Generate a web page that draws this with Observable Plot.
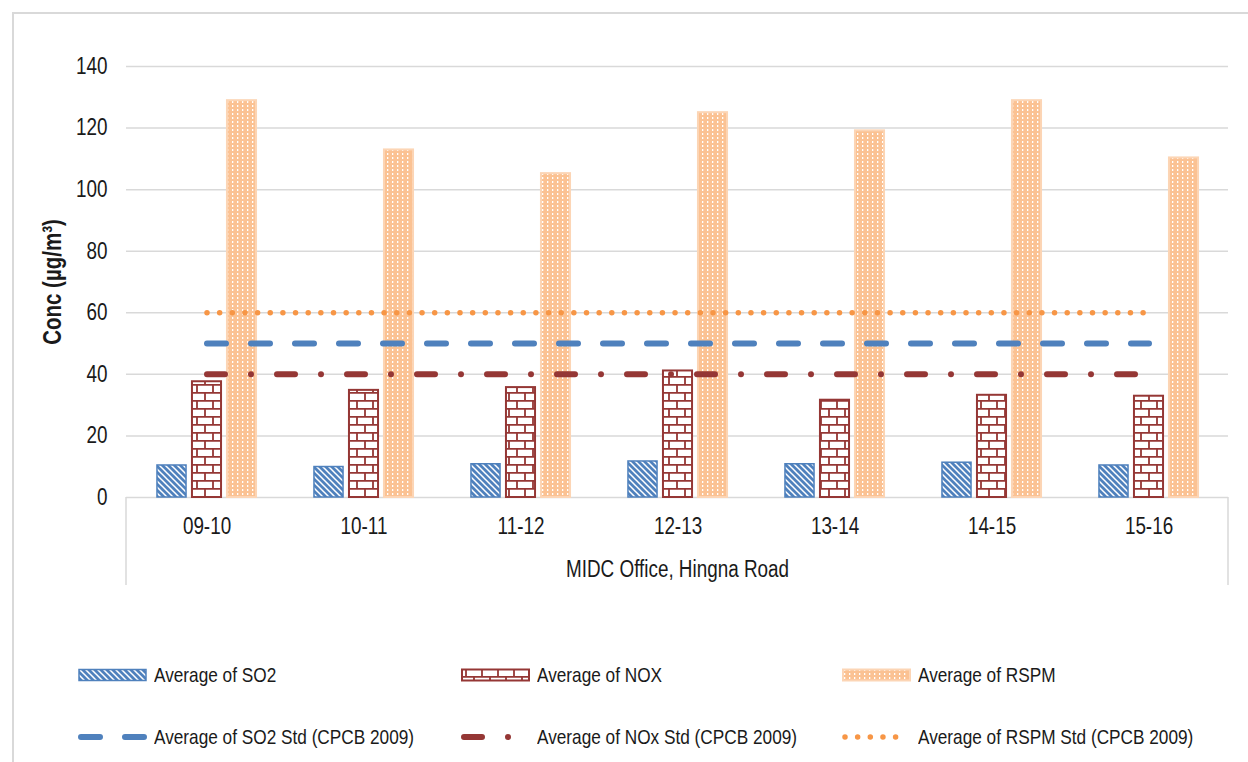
<!DOCTYPE html>
<html><head><meta charset="utf-8">
<script src="https://cdn.jsdelivr.net/npm/d3@7"></script>
<script src="https://cdn.jsdelivr.net/npm/@observablehq/plot@0.6"></script>
<style>
body{margin:0;background:#fff;width:1248px;height:762px;overflow:hidden;position:relative;font-family:"Liberation Sans Narrow","Arial Narrow","Liberation Sans",Arial,sans-serif;}
#frame{position:absolute;left:12px;top:12px;width:1300px;height:800px;border-left:2px solid #d9d9d9;border-top:2px solid #d9d9d9;pointer-events:none}
#chart{position:absolute;left:0;top:0}
.leg{position:absolute;height:30px;display:flex;align-items:center;font-size:21px;color:#1a1a1a;white-space:nowrap}
.leg svg{margin-right:7px;flex:none}
.leg span{display:inline-block;transform:scaleX(0.82);transform-origin:left center}
</style></head><body>
<svg width="0" height="0" style="position:absolute"><defs>
<pattern id="p-so2" patternUnits="userSpaceOnUse" width="6" height="6">
<rect width="6" height="6" fill="#4f81bd"/>
<path d="M-1,-1L7,7M-4,2L1,7M5,-1L10,4" stroke="#fff" stroke-width="1.5"/>
</pattern>
<pattern id="p-nox" patternUnits="userSpaceOnUse" width="16" height="16">
<rect width="16" height="16" fill="#fff"/>
<path d="M0,0.9H16M0,8.9H16M5,0V9M13,9V17" stroke="#953735" stroke-width="1.8" fill="none"/>
</pattern>
<pattern id="p-rspm" patternUnits="userSpaceOnUse" width="5" height="4">
<rect width="5" height="4" fill="#fbc293"/>
<rect x="2" y="1" width="1.3" height="2" fill="#fff"/>
</pattern>
</defs></svg>
<div id="chart"></div>
<div id="legend"></div>
<div id="frame"></div>
<script>
// ---- data ----
const years = ["09-10", "10-11", "11-12", "12-13", "13-14", "14-15", "15-16"];
const so2 = [10.4, 9.9, 10.8, 11.7, 10.8, 11.3, 10.4];
const nox = [37.6, 34.8, 35.7, 41.1, 31.6, 33.2, 32.9];
const rspm = [128.9, 112.9, 105.2, 125.0, 119.1, 128.9, 110.3];
const so2Std = [50, 50, 50, 50, 50, 50, 50];
const noxStd = [40, 40, 40, 40, 40, 40, 40];
const rspmStd = [60, 60, 60, 60, 60, 60, 60];
const yTicks = [0, 20, 40, 60, 80, 100, 120, 140];
const barNames = ["Average of SO2", "Average of NOX", "Average of RSPM"];
const stdNames = ["Average of SO2 Std (CPCB 2009)", "Average of NOx Std (CPCB 2009)", "Average of RSPM Std (CPCB 2009)"];
const yLabel = "Conc (µg/m³)";
const xTitle = "MIDC Office, Hingna Road";

const rows = years.map((year, i) => ({year, so2: so2[i], nox: nox[i], rspm: rspm[i],
  so2Std: so2Std[i], noxStd: noxStd[i], rspmStd: rspmStd[i]}));

// ---- layout / style ----
const FONT = '"Liberation Sans Narrow","Arial Narrow","Liberation Sans",Arial,sans-serif';
const NARROW = 0.82;
const W = 1248, H = 600, ML = 126, MR = 20, MT = 66, MB = 103;
const bw = (W - ML - MR) / years.length;
const barW = 29.5, step = 35;
const insets = i => { const off = (i - 1) * step; return {insetLeft: bw / 2 + off - barW / 2, insetRight: bw / 2 - off - barW / 2}; };
const barStyle = [
  {key: "so2", fill: "url(#p-so2)", stroke: "#4f81bd", strokeWidth: 1.5},
  {key: "nox", fill: "url(#p-nox)", stroke: "#953735", strokeWidth: 2},
  {key: "rspm", fill: "url(#p-rspm)", stroke: "#fcd5b5", strokeWidth: 2}
];
const lineStyle = [
  {key: "so2Std", stroke: "#4f81bd", strokeWidth: 6, strokeDasharray: "19,25"},
  {key: "noxStd", stroke: "#953735", strokeWidth: 6, strokeDasharray: "18,26,0,26"},
  {key: "rspmStd", stroke: "#f79646", strokeWidth: 5.5, strokeDasharray: "0,12.65"}
];

const axisBox = (index, scales, values, dims) => {
  const g = d3.create("svg:g");
  const y0 = dims.height - dims.marginBottom, y1 = y0 + 88;
  for (const x of [dims.marginLeft, dims.width - dims.marginRight]) {
    g.append("line").attr("x1", x).attr("x2", x).attr("y1", y0).attr("y2", y1)
      .attr("stroke", "#d9d9d9").attr("stroke-width", 1.5);
  }
  return g.node();
};

const chart = Plot.plot({
  width: W, height: H, marginLeft: ML, marginRight: MR, marginTop: MT, marginBottom: MB,
  style: {fontFamily: FONT, fontSize: "23px", color: "#1a1a1a", background: "transparent"},
  x: {type: "band", domain: years, padding: 0, label: null, tickSize: 0, tickPadding: 20},
  y: {domain: [0, 140], ticks: yTicks, tickSize: 0, tickPadding: 19, label: null},
  marks: [
    Plot.ruleY(yTicks, {stroke: "#d9d9d9", strokeWidth: 1.5}),
    axisBox,
    ...barStyle.map((s, i) => Plot.barY(rows, {x: "year", y: s.key, fill: s.fill, stroke: s.stroke, strokeWidth: s.strokeWidth, ...insets(i)})),
    ...lineStyle.map(s => Plot.line(rows, {x: "year", y: s.key, stroke: s.stroke, strokeWidth: s.strokeWidth, strokeDasharray: s.strokeDasharray, strokeLinecap: "round"})),
    Plot.text([xTitle], {text: d => d, frameAnchor: "bottom", dy: 79, fontSize: 23}),
    Plot.text([yLabel], {text: d => d, frameAnchor: "left", textAnchor: "middle", rotate: -90, dx: -74, fontWeight: "bold", fontSize: 25})
  ]
});
document.getElementById("chart").appendChild(chart);
// narrow the text (no narrow face installed): compress each label horizontally
chart.querySelectorAll("text").forEach(t => {
  const L = t.getComputedTextLength();
  if (L > 0) { t.setAttribute("textLength", L * NARROW); t.setAttribute("lengthAdjust", "spacingAndGlyphs"); }
});

// ---- legend ----
const legend = d3.select("#legend");
const cols = [78, 461, 842];
barNames.forEach((name, i) => {
  const s = barStyle[i];
  const d = legend.append("div").attr("class", "leg").style("left", cols[i] + "px").style("top", (675 - 15) + "px");
  const sv = d.append("svg").attr("width", 69).attr("height", 14);
  sv.append("rect").attr("x", 1).attr("y", 1.5).attr("width", 67).attr("height", 11)
    .attr("fill", s.fill).attr("stroke", s.stroke).attr("stroke-width", s.strokeWidth);
  d.append("span").text(name);
});
stdNames.forEach((name, i) => {
  const s = lineStyle[i];
  const d = legend.append("div").attr("class", "leg").style("left", cols[i] + "px").style("top", (737 - 15) + "px");
  const sv = d.append("svg").attr("width", 69).attr("height", 10);
  sv.append("line").attr("x1", 3).attr("x2", 66).attr("y1", 5).attr("y2", 5)
    .attr("stroke", s.stroke).attr("stroke-width", s.strokeWidth).attr("stroke-dasharray", s.strokeDasharray)
    .attr("stroke-linecap", "round");
  d.append("span").text(name);
});
</script>
</body></html>
